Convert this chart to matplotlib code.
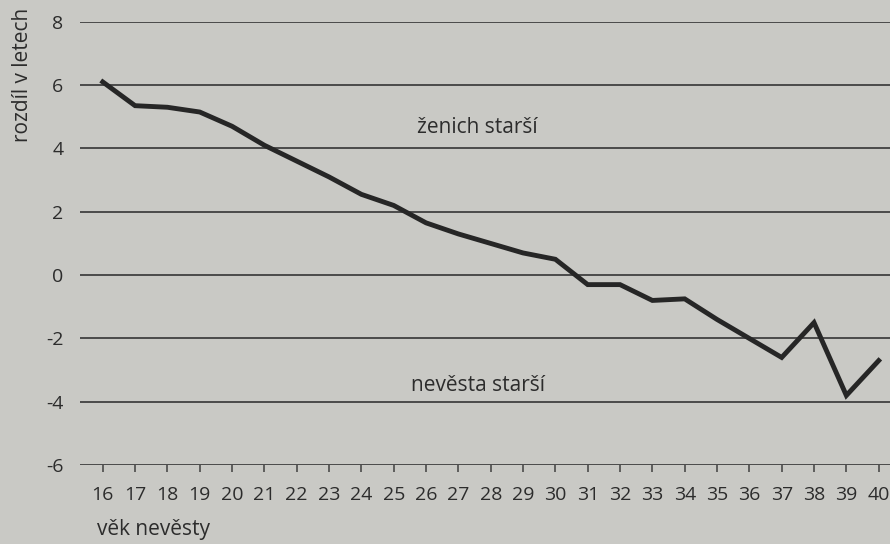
import numpy as np
import matplotlib.pyplot as plt

plt.rcParams["font.family"] = ["Open Sans", "DejaVu Sans"]

# bride's age and the age gap (groom minus bride)
ages = [16, 17, 18, 19, 20, 21, 22, 23, 24, 25, 26, 27, 28,
        29, 30, 31, 32, 33, 34, 35, 36, 37, 38, 39, 40]
diff = [6.1, 5.35, 5.3, 5.15, 4.7, 4.1, 3.6, 3.1, 2.55, 2.2, 1.65, 1.3, 1.0,
        0.7, 0.5, -0.3, -0.3, -0.8, -0.75, -1.4, -2.0, -2.6, -1.5, -3.8, -2.7]
y_ticks = [8, 6, 4, 2, 0, -2, -4, -6]

bg = "#c9c9c5"
ink = "#2c2c2c"

fig = plt.figure(figsize=(8.9, 5.44), dpi=100, facecolor=bg)
ax = fig.add_axes([0.09, 0.145, 0.91, 0.815], facecolor=bg)

for y in y_ticks:
    ax.axhline(y, color="#4a4a4a", linewidth=1.4, zorder=1)

ax.plot(ages, diff, color="#262626", linewidth=3.5, solid_joinstyle="miter", zorder=3)

ax.text(27.6, 4.65, "ženich starší", fontsize=15, color=ink, ha="center", va="center")
ax.text(27.6, -3.5, "nevěsta starší", fontsize=15, color=ink, ha="center", va="center")

ax.set_xlim(15.3, 40.35)
ax.set_ylim(-6, 8)
ax.set_xticks(ages)
ax.set_yticks(y_ticks)
ax.set_yticklabels([str(v) for v in y_ticks])
ax.tick_params(axis="x", length=5, width=1.2, color="#4a4a4a", pad=10,
               labelsize=14, labelcolor=ink)
ax.tick_params(axis="y", length=0, pad=12, labelsize=14, labelcolor=ink)
for s in ax.spines.values():
    s.set_visible(False)

fig.text(0.025, 0.985, "rozdíl v letech", rotation=90, fontsize=15,
         color=ink, ha="center", va="top")
fig.text(0.109, 0.027, "věk nevěsty", fontsize=15, color=ink, ha="left", va="center")

fig.savefig("out.png", dpi=100, facecolor=bg)
